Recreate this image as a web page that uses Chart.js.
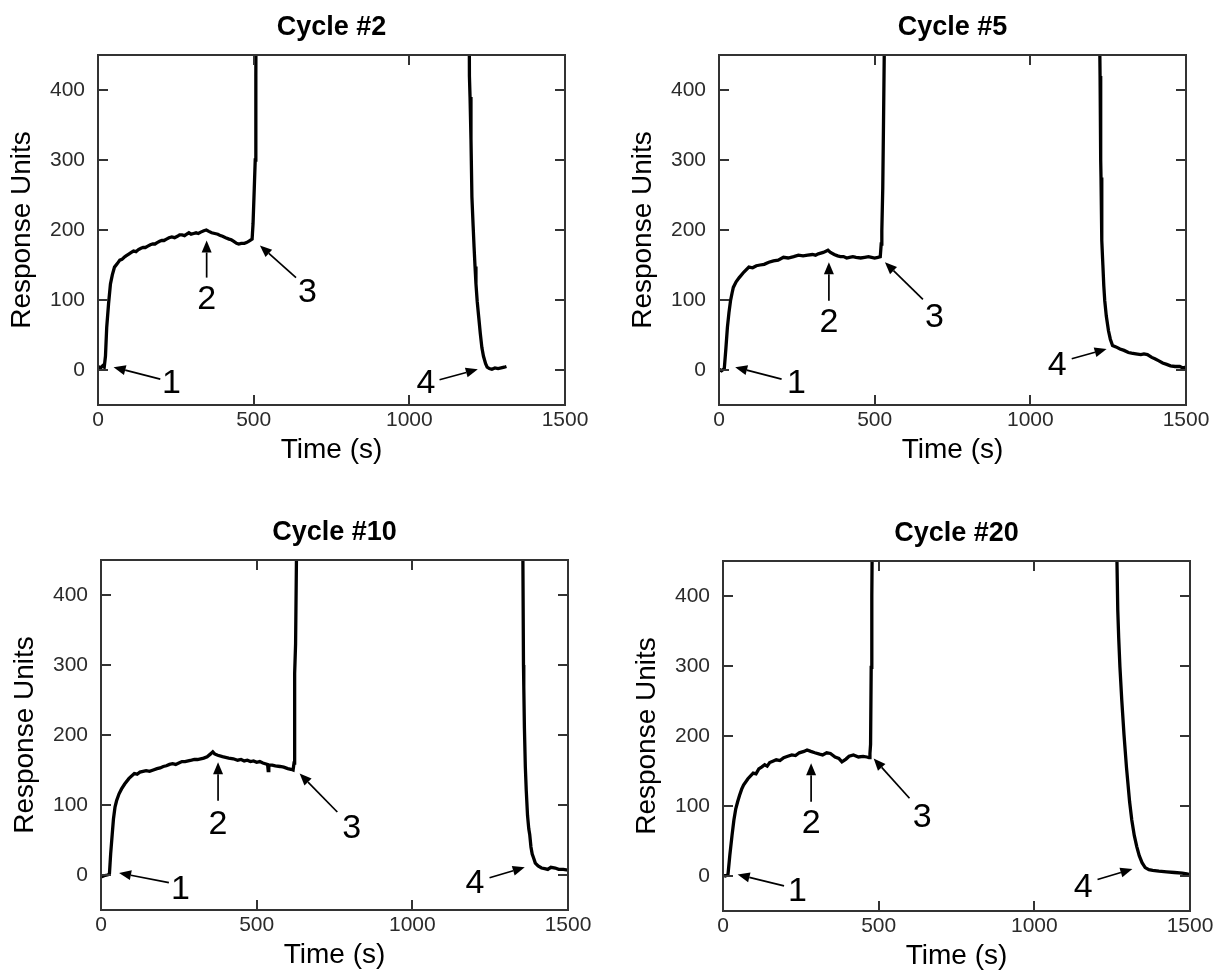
<!DOCTYPE html>
<html>
<head>
<meta charset="utf-8">
<script src="https://cdn.jsdelivr.net/npm/chart.js@4"></script>
<style>
  html, body { margin: 0; padding: 0; background: #fff; overflow: hidden; }
  #wrap { position: relative; width: 1216px; height: 973px; }
  canvas { position: absolute; }
</style>
</head>
<body>
<div id="wrap">
  <canvas id="c2" width="590" height="480" style="left:0px;top:0px"></canvas>
  <canvas id="c5" width="590" height="480" style="left:621px;top:0px"></canvas>
  <canvas id="c10" width="590" height="480" style="left:3px;top:505px"></canvas>
  <canvas id="c20" width="590" height="480" style="left:625px;top:506px"></canvas>
</div>
<script>
// tick labels
const xTicks = [0, 500, 1000, 1500];
const yTicks = [0, 100, 200, 300, 400];

// Cycle #2 (time in s, response units)
const cycle2Time = [0, 8, 15, 20, 24, 28, 34, 40, 46, 53, 62, 70, 77, 84, 90, 100, 107, 114, 122, 130, 138, 145, 152, 160, 168, 176, 183, 190, 198, 205, 212, 220, 228, 237, 246, 255, 262, 270, 278, 285, 292, 299, 307, 315, 322, 330, 340, 348, 356, 365, 375, 385, 393, 400, 410, 421, 428, 435, 445, 452, 460, 470, 477, 485, 495, 498, 502, 505, 507, 509, 520, 1185, 1191, 1193, 1195, 1198, 1201, 1205, 1208, 1211, 1214, 1218, 1223, 1228, 1233, 1238, 1245, 1250, 1257, 1265, 1275, 1285, 1295, 1305, 1312];
const cycle2RU = [5, 3, 6, 4, 20, 61, 95, 123, 136, 147, 152, 157, 158, 161, 163, 166, 168, 170, 169, 172, 174, 175, 175, 177, 179, 180, 180, 182, 184, 185, 185, 187, 189, 190, 189, 191, 193, 193, 192, 194, 196, 194, 195, 196, 195, 197, 199, 200, 198, 196, 195, 194, 192, 191, 189, 187, 186, 184, 181, 180, 181, 181, 182, 184, 187, 209, 260, 300, 420, 700, 1200, 1200, 700, 420, 390, 330, 247, 205, 175, 148, 123, 98, 75, 52, 32, 20, 9, 4, 2, 1, 3, 2, 3, 4, 5];

// Cycle #5
const cycle5Time = [0, 8, 17, 22, 27, 32, 37, 42, 46, 55, 65, 80, 96, 108, 120, 132, 145, 160, 175, 190, 207, 222, 240, 255, 270, 285, 300, 310, 319, 335, 345, 350, 358, 370, 381, 390, 400, 410, 419, 430, 440, 455, 468, 480, 490, 500, 510, 518, 521, 523, 526, 528, 531, 540, 1218, 1222, 1224, 1226, 1227, 1229, 1230, 1233, 1236, 1239, 1244, 1251, 1257, 1264, 1275, 1288, 1301, 1315, 1325, 1339, 1355, 1365, 1376, 1390, 1400, 1413, 1425, 1438, 1450, 1465, 1480, 1490, 1500];
const cycle5RU = [1, -1, 2, 30, 61, 82, 99, 110, 118, 126, 132, 140, 147, 146, 149, 150, 151, 154, 156, 157, 161, 160, 162, 164, 163, 164, 165, 164, 166, 168, 170, 171, 168, 165, 163, 162, 162, 160, 161, 162, 161, 160, 161, 162, 161, 160, 161, 162, 180, 199, 260, 337, 460, 1200, 1200, 500, 420, 300, 275, 220, 185, 150, 120, 99, 77, 56, 44, 35, 33, 30, 28, 25, 24, 23, 22, 23, 22, 18, 16, 13, 10, 8, 6, 5, 5, 3, 4];

// Cycle #10
const cycle10Time = [0, 10, 20, 27, 31, 36, 40, 45, 50, 58, 66, 76, 90, 107, 116, 125, 135, 145, 156, 168, 180, 190, 200, 210, 220, 230, 240, 250, 260, 270, 280, 291, 300, 310, 320, 330, 341, 352, 359, 365, 375, 390, 400, 410, 425, 439, 450, 460, 470, 480, 490, 500, 510, 520, 535, 537, 539, 550, 560, 575, 587, 600, 610, 617, 620, 621, 622, 623, 625, 628, 640, 1350, 1355, 1357, 1358, 1360, 1363, 1366, 1370, 1374, 1377, 1381, 1385, 1389, 1395, 1404, 1415, 1425, 1435, 1445, 1459, 1470, 1485, 1500];
const cycle10RU = [-3, -1, 0, 1, 30, 58, 80, 97, 106, 116, 123, 130, 138, 145, 144, 147, 148, 149, 148, 150, 152, 153, 155, 156, 158, 159, 158, 160, 162, 162, 163, 164, 165, 165, 166, 167, 169, 173, 176, 173, 171, 169, 168, 167, 166, 164, 165, 163, 164, 162, 163, 161, 162, 160, 158, 149, 157, 157, 156, 155, 154, 152, 151, 150, 160, 164, 200, 288, 330, 460, 1200, 1200, 460, 300, 269, 210, 154, 120, 85, 66, 58, 40, 30, 25, 17, 13, 10, 9, 8, 11, 10, 8, 8, 7];

// Cycle #20
const cycle20Time = [0, 8, 16, 22, 29, 35, 41, 47, 53, 60, 66, 80, 97, 106, 115, 125, 134, 142, 150, 160, 171, 183, 195, 208, 221, 233, 245, 260, 270, 282, 295, 310, 320, 333, 345, 360, 372, 382, 395, 405, 419, 435, 450, 462, 469, 472, 474, 476, 478, 479, 490, 1262, 1265, 1268, 1271, 1275, 1281, 1288, 1296, 1306, 1313, 1321, 1329, 1337, 1346, 1356, 1368, 1380, 1400, 1425, 1450, 1475, 1490, 1500];
const cycle20RU = [1, 0, 2, 30, 58, 80, 96, 106, 115, 124, 130, 139, 147, 146, 153, 156, 159, 157, 162, 164, 166, 165, 169, 171, 173, 172, 176, 178, 180, 178, 176, 174, 173, 176, 175, 170, 168, 163, 167, 171, 173, 170, 171, 170, 169, 175, 188, 298, 400, 460, 1200, 1200, 460, 380, 340, 298, 250, 202, 155, 106, 80, 58, 42, 29, 19, 12, 9, 8, 7, 6, 5, 4, 3, 2];

// numbered arrows: head / tail / label in data units (s, RU)
const notes2 = [
  { n: '1', head: [50, 4], tail: [200, -13], label: [236, -20] },
  { n: '2', head: [349, 185], tail: [349, 132], label: [349, 101] },
  { n: '3', head: [520, 178], tail: [636, 132], label: [673, 111] },
  { n: '4', head: [1220, 1], tail: [1097, -14], label: [1053, -20] }
];
const notes5 = [
  { n: '1', head: [52, 4], tail: [201, -13], label: [249, -20] },
  { n: '2', head: [353, 154], tail: [353, 99], label: [353, 68] },
  { n: '3', head: [533, 154], tail: [655, 101], label: [692, 75] },
  { n: '4', head: [1245, 30], tail: [1133, 16], label: [1086, 6] }
];
const notes10 = [
  { n: '1', head: [58, 3], tail: [218, -11], label: [255, -21] },
  { n: '2', head: [376, 161], tail: [376, 106], label: [376, 72] },
  { n: '3', head: [638, 145], tail: [759, 90], label: [805, 66] },
  { n: '4', head: [1361, 11], tail: [1248, -4], label: [1201, -13] }
];
const notes20 = [
  { n: '1', head: [47, 2], tail: [196, -14], label: [239, -22] },
  { n: '2', head: [283, 161], tail: [283, 106], label: [283, 75] },
  { n: '3', head: [484, 168], tail: [599, 111], label: [640, 84] },
  { n: '4', head: [1315, 10], tail: [1203, -5], label: [1157, -17] }
];

const FONT = 'Arial, "Liberation Sans", Helvetica, sans-serif';

// box round the plot area with inward ticks on all sides
const framePlugin = {
  id: 'frame',
  afterDatasetsDraw(chart) {
    const { ctx, chartArea: a, scales } = chart;
    ctx.save();
    ctx.strokeStyle = '#333';
    ctx.lineWidth = 2;
    ctx.strokeRect(a.left, a.top, a.right - a.left, a.bottom - a.top);
    ctx.beginPath();
    yTicks.forEach(v => {
      const y = Math.round(scales.y.getPixelForValue(v));
      ctx.moveTo(a.left, y); ctx.lineTo(a.left + 10, y);
      ctx.moveTo(a.right, y); ctx.lineTo(a.right - 10, y);
    });
    xTicks.forEach(v => {
      const x = Math.round(scales.x.getPixelForValue(v));
      ctx.moveTo(x, a.bottom); ctx.lineTo(x, a.bottom - 10);
      ctx.moveTo(x, a.top); ctx.lineTo(x, a.top + 10);
    });
    ctx.stroke();
    ctx.restore();
  }
};

// panel title + numbered arrows
const notesPlugin = {
  id: 'notes',
  afterDraw(chart, args, opts) {
    const { ctx, chartArea: a, scales } = chart;
    const px = p => [scales.x.getPixelForValue(p[0]), scales.y.getPixelForValue(p[1])];
    ctx.save();
    ctx.fillStyle = '#000';
    ctx.font = 'bold 27px ' + FONT;
    ctx.textAlign = 'center';
    ctx.textBaseline = 'alphabetic';
    ctx.fillText(opts.title, (a.left + a.right) / 2, a.top - 20);

    ctx.strokeStyle = '#000';
    ctx.lineWidth = 1.7;
    opts.items.forEach(it => {
      const [hx, hy] = px(it.head);
      const [tx, ty] = px(it.tail);
      const ang = Math.atan2(hy - ty, hx - tx);
      const len = 12, half = 5;
      const bx = hx - len * Math.cos(ang), by = hy - len * Math.sin(ang);
      ctx.beginPath();
      ctx.moveTo(tx, ty); ctx.lineTo(bx, by);
      ctx.stroke();
      ctx.beginPath();
      ctx.moveTo(hx, hy);
      ctx.lineTo(bx + half * Math.sin(ang), by - half * Math.cos(ang));
      ctx.lineTo(bx - half * Math.sin(ang), by + half * Math.cos(ang));
      ctx.closePath();
      ctx.fill();
      const [lx, ly] = px(it.label);
      ctx.font = '34px ' + FONT;
      ctx.textBaseline = 'middle';
      ctx.fillText(it.n, lx, ly);
    });
    ctx.restore();
  }
};

function makeChart(canvasId, title, time, ru, notes) {
  const points = time.map((t, i) => ({ x: t, y: ru[i] }));
  new Chart(document.getElementById(canvasId), {
    type: 'line',
    data: {
      datasets: [{
        data: points,
        borderColor: '#000',
        borderWidth: 3.3,
        pointRadius: 0,
        tension: 0,
        clip: 0
      }]
    },
    options: {
      responsive: false,
      animation: false,
      layout: { padding: { left: 0, top: 55, right: 25, bottom: 5 } },
      plugins: {
        legend: { display: false },
        tooltip: { enabled: false },
        notes: { title: title, items: notes }
      },
      scales: {
        x: {
          type: 'linear',
          min: 0,
          max: 1500,
          grid: { display: false, drawTicks: false },
          border: { display: false },
          afterBuildTicks: s => { s.ticks = xTicks.map(v => ({ value: v })); },
          afterFit: s => { s.height = 70; s.paddingLeft = 0; s.paddingRight = 0; },
          ticks: { color: '#2b2b2b', font: { family: FONT, size: 21 }, padding: 3, maxRotation: 0, callback: v => String(v) },
          title: { display: true, text: 'Time (s)', color: '#000', font: { family: FONT, size: 28 }, padding: { top: 0, bottom: 8 } }
        },
        y: {
          min: -50,
          max: 450,
          grid: { display: false, drawTicks: false },
          border: { display: false },
          afterBuildTicks: s => { s.ticks = yTicks.map(v => ({ value: v })); },
          afterFit: s => { s.width = 98; s.paddingTop = 0; s.paddingBottom = 0; },
          ticks: { color: '#2b2b2b', font: { family: FONT, size: 21 }, padding: 13, callback: v => String(v) },
          title: { display: true, text: 'Response Units', color: '#000', font: { family: FONT, size: 28 }, padding: { top: 5, bottom: 0 } }
        }
      }
    },
    plugins: [framePlugin, notesPlugin]
  });
}

makeChart('c2', 'Cycle #2', cycle2Time, cycle2RU, notes2);
makeChart('c5', 'Cycle #5', cycle5Time, cycle5RU, notes5);
makeChart('c10', 'Cycle #10', cycle10Time, cycle10RU, notes10);
makeChart('c20', 'Cycle #20', cycle20Time, cycle20RU, notes20);
</script>
</body>
</html>
